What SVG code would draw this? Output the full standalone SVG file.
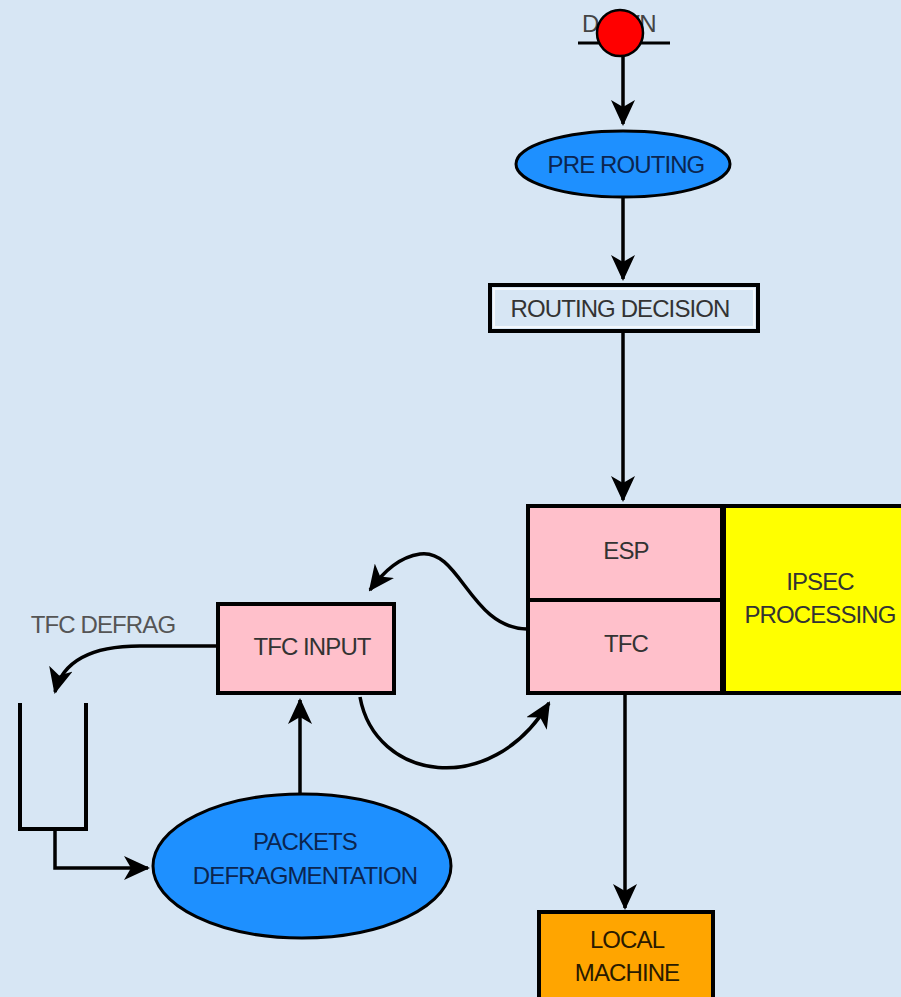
<svg xmlns="http://www.w3.org/2000/svg" width="901" height="997" viewBox="0 0 901 997">
<style>
.lbl{font-family:"Liberation Sans",Arial,sans-serif;font-size:24px;text-anchor:middle;letter-spacing:-0.9px}
.conn{fill:none;stroke:#000;stroke-width:3.5}
.box{stroke:#000;stroke-width:4}
</style>
<defs>
<marker id="ah" viewBox="0 0 26 24" refX="24" refY="12" markerWidth="26" markerHeight="24" markerUnits="userSpaceOnUse" orient="auto">
<path d="M0,0 L26,12 L0,24 L7,12 Z" fill="#000"/>
</marker>
</defs>
<rect width="901" height="997" fill="#d7e6f4"/>

<g id="connectors">
<path class="conn" d="M623,57 V124" marker-end="url(#ah)"/>
<path class="conn" d="M623,198 V279" marker-end="url(#ah)"/>
<path class="conn" d="M623,332 V500" marker-end="url(#ah)"/>
<path class="conn" d="M625,695 V908" marker-end="url(#ah)"/>
<path class="conn" d="M300,794 V700" marker-end="url(#ah)"/>
<path class="conn" d="M55,829 V868 H148" marker-end="url(#ah)"/>
<path class="conn" d="M217,646 H140 C100,646 64,656 55,692" marker-end="url(#ah)"/>
<path class="conn" d="M527,629 C470,628 460,548 420,554 C400,557 385,570 370,590" marker-end="url(#ah)"/>
<path class="conn" d="M360,697 C375,780 490,800 549,703" marker-end="url(#ah)"/>
</g>

<g id="down">
<text x="582" y="32" style="font-family:'Liberation Sans',Arial,sans-serif;font-size:24px;fill:#444;letter-spacing:-0.5px">DOWN</text>
<line x1="578" y1="43" x2="670" y2="43" stroke="#000" stroke-width="3"/>
<circle cx="620" cy="33" r="23" fill="#ff0000" stroke="#000" stroke-width="2.5"/>
</g>

<g id="pre-routing">
<ellipse cx="623" cy="164" rx="107" ry="33" fill="#1e90ff" stroke="#000" stroke-width="3"/>
<text class="lbl" x="626" y="173" fill="#0b2550">PRE ROUTING</text>
</g>

<g id="routing-decision">
<rect x="490" y="285" width="268" height="46" fill="#d7e6f4" stroke="#000" stroke-width="4"/>
<rect x="494" y="289" width="260" height="38" fill="none" stroke="#f4f8fc" stroke-width="2"/>
<text class="lbl" x="620" y="317" fill="#333">ROUTING DECISION</text>
</g>

<g id="ipsec">
<rect x="724" y="506" width="190" height="187" fill="#ffff00" class="box"/>
<text class="lbl" x="820" y="590" fill="#333">IPSEC</text>
<text class="lbl" x="820" y="623" fill="#333">PROCESSING</text>
</g>

<g id="esp">
<rect x="528" y="506" width="194" height="94" fill="#ffc0cb" class="box"/>
<text class="lbl" x="626" y="559" fill="#333">ESP</text>
</g>

<g id="tfc">
<rect x="528" y="600" width="194" height="93" fill="#ffc0cb" class="box"/>
<text class="lbl" x="626" y="652" fill="#333">TFC</text>
</g>

<g id="tfc-input">
<rect x="218" y="604" width="176" height="89" fill="#ffc0cb" class="box"/>
<text class="lbl" x="312" y="655" fill="#333">TFC INPUT</text>
</g>

<g id="tfc-defrag">
<text class="lbl" x="103" y="633" fill="#555">TFC DEFRAG</text>
<path d="M20,703 V829 H86 V703" fill="none" stroke="#000" stroke-width="4"/>
</g>

<g id="packets-defragmentation">
<ellipse cx="302" cy="866" rx="149" ry="72" fill="#1e90ff" stroke="#000" stroke-width="3"/>
<text class="lbl" x="305" y="850" fill="#0b2550">PACKETS</text>
<text class="lbl" x="305" y="884" fill="#0b2550">DEFRAGMENTATION</text>
</g>

<g id="local-machine">
<rect x="539" y="912" width="174" height="100" fill="#ffa500" class="box"/>
<text class="lbl" x="627" y="948" fill="#2a1a00">LOCAL</text>
<text class="lbl" x="627" y="981" fill="#2a1a00">MACHINE</text>
</g>
</svg>
